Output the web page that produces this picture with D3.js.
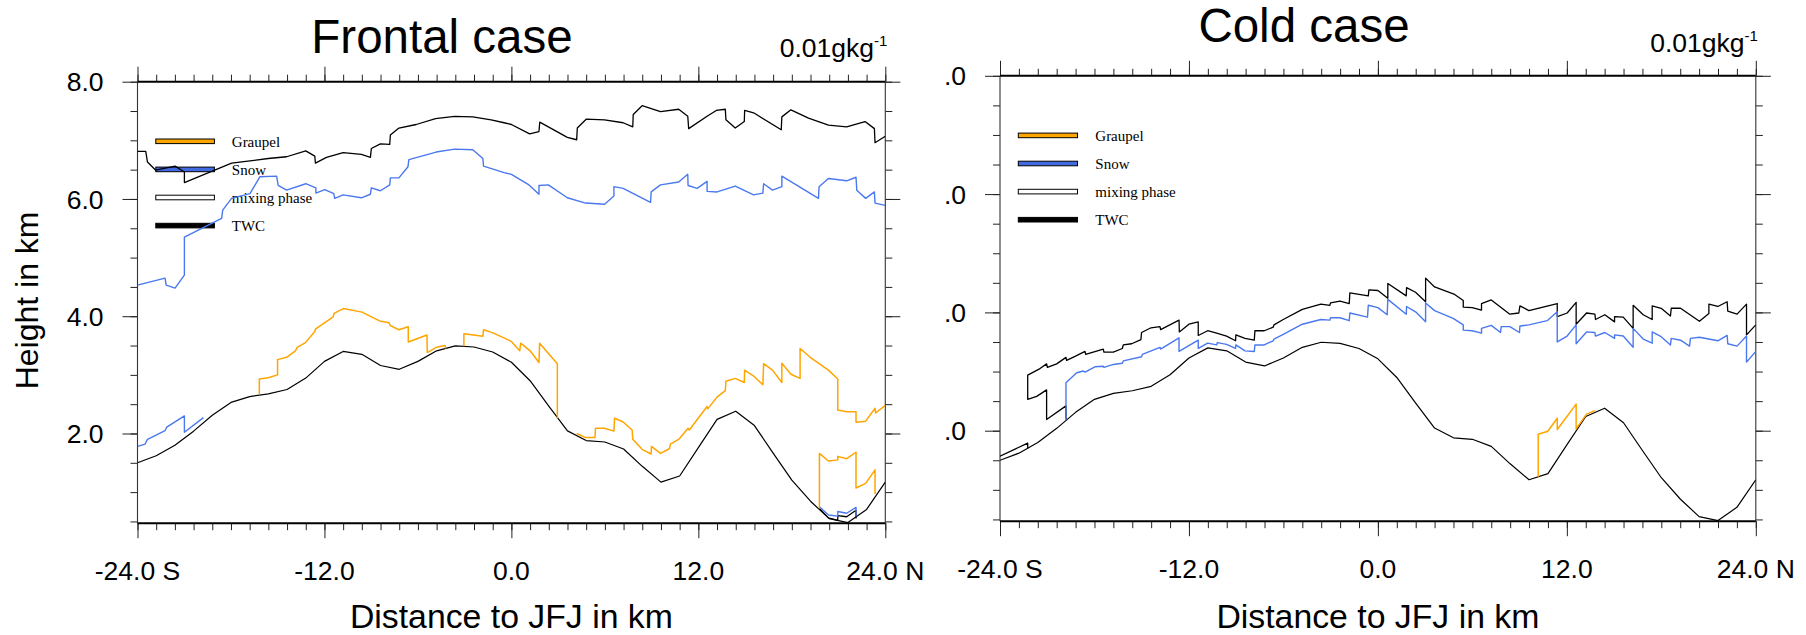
<!DOCTYPE html>
<html><head><meta charset="utf-8">
<script src="https://cdn.jsdelivr.net/npm/d3@7"></script>
<style>body{margin:0;background:#fff}</style>
</head><body>
<svg id="c" width="1806" height="635" xmlns="http://www.w3.org/2000/svg"></svg>
<script>
// ---------------- DATA ----------------
const terrainKm = [-24,-22.8,-21.6,-20.4,-19.2,-18,-16.8,-15.6,-14.4,-13.2,-12,-10.8,-9.6,-8.4,-7.2,-6,-4.8,-3.6,-2.4,-1.2,0,1.2,2.4,3.6,4.8,6,7.2,8.4,9.6,10.8,12,13.2,14.4,15.6,16.8,18,19.2,20.4,21.6,22.8,24];
const terrainH  = [1.50,1.62,1.80,2.04,2.31,2.53,2.63,2.675,2.75,2.945,3.23,3.40,3.35,3.16,3.095,3.23,3.41,3.495,3.475,3.39,3.215,2.90,2.465,2.045,1.88,1.855,1.735,1.44,1.17,1.275,1.76,2.24,2.38,2.135,1.665,1.205,0.845,0.547,0.48,0.705,1.17];

// [distance km, height km]; null = gap
const frontalTWC = [[-24,6.81],[-23.47,6.81],[-23.36,6.63],[-22.83,6.49],[-21.59,6.56],[-20.99,6.46],[-20.99,6.28],[-17.96,6.61],[-16.78,6.65],[-15.61,6.69],[-14.43,6.72],[-13.2,6.82],[-12.62,6.73],[-12.58,6.61],[-11.87,6.71],[-10.8,6.79],[-9.63,6.76],[-9.05,6.71],[-8.99,6.86],[-8.41,6.94],[-7.81,6.93],[-7.77,7.09],[-7.22,7.21],[-6.11,7.27],[-4.87,7.37],[-3.65,7.41],[-2.48,7.40],[-1.3,7.35],[-0.47,7.30],[0,7.27],[1.17,7.11],[1.77,7.15],[1.82,7.31],[3.59,7.05],[4.19,7.01],[4.23,7.21],[4.8,7.36],[5.98,7.35],[7.17,7.30],[7.79,7.23],[7.82,7.44],[8.39,7.59],[9.57,7.49],[10.74,7.53],[11.32,7.41],[11.38,7.20],[12.56,7.41],[13.15,7.51],[13.73,7.53],[13.77,7.35],[14.37,7.21],[14.95,7.32],[14.97,7.51],[15.55,7.47],[17.32,7.18],[17.36,7.40],[17.94,7.52],[19.07,7.38],[20.35,7.26],[21.52,7.23],[22.7,7.32],[23.3,7.20],[23.34,6.96],[24,7.07],
  null,[19.77,0.72],[20.35,0.56],[20.95,0.52],[20.95,0.60],[21.52,0.58],[22.12,0.69],[22.12,0.55]];

const frontalSnow = [[-24,4.53],[-22.23,4.65],[-22.16,4.53],[-21.59,4.48],[-20.99,4.70],[-20.99,5.35],[-18.6,5.67],[-18.53,5.81],[-17.96,6.01],[-16.78,6.09],[-16.14,6.38],[-15.07,6.39],[-14.97,6.23],[-14.43,6.15],[-13.2,6.26],[-12.55,6.19],[-12.55,6.10],[-11.98,6.16],[-11.4,6.09],[-11.34,6.01],[-10.8,6.07],[-9.63,6.02],[-9.05,6.08],[-8.99,6.19],[-8.41,6.14],[-7.81,6.24],[-7.77,6.36],[-7.22,6.36],[-6.64,6.55],[-6.58,6.67],[-4.83,6.80],[-3.65,6.85],[-2.48,6.84],[-1.83,6.69],[-1.79,6.56],[-0.47,6.45],[0,6.42],[1.13,6.24],[1.77,6.08],[1.77,6.23],[2.37,6.24],[3.59,6.02],[4.76,5.93],[5.98,5.91],[6.58,6.05],[6.58,6.21],[7.17,6.18],[8.93,5.94],[8.97,6.12],[9.57,6.24],[10.74,6.29],[11.32,6.42],[11.34,6.23],[11.92,6.18],[12.56,6.30],[12.56,6.13],[13.2,6.12],[14.37,6.22],[15.55,6.07],[16.14,6.10],[16.19,6.26],[16.76,6.15],[17.36,6.21],[17.36,6.39],[19.71,6.01],[19.75,6.21],[20.35,6.35],[21.52,6.31],[22.12,6.37],[22.17,6.15],[22.74,6.01],[23.3,6.12],[23.34,5.93],[24,5.89],
  null,[-24,1.78],[-23.51,1.82],[-23.36,1.90],[-22.23,2.05],[-22.12,2.11],[-20.99,2.30],[-20.99,2.02],[-19.77,2.27],
  null,[19.77,0.75],[20.35,0.61],[20.95,0.59],[20.95,0.67],[21.52,0.64],[22.12,0.74],[22.12,0.59]];

const frontalGraupel = [[-16.18,2.66],[-16.18,2.93],[-15.61,2.95],[-15.01,3.00],[-15.01,3.26],[-14.43,3.30],[-13.86,3.41],[-13.75,3.47],[-13.22,3.55],[-12.62,3.74],[-12.58,3.78],[-11.44,3.99],[-11.38,4.05],[-10.78,4.13],[-9.59,4.07],[-8.46,3.92],[-7.86,3.89],[-7.77,3.84],[-7.22,3.77],[-6.62,3.82],[-6.62,3.56],[-5.42,3.68],[-5.40,3.38],[-4.82,3.47],[-4.25,3.50],[-4.23,3.45],
  null,[-3.05,3.49],[-3.05,3.70],[-1.83,3.66],[-1.79,3.77],[-1.23,3.72],[-0.47,3.63],[0,3.57],[0.53,3.41],[0.6,3.54],[1.2,3.41],[1.77,3.21],[1.81,3.54],[2.95,3.19],[2.95,2.26],
  null,[4.19,2.00],[4.76,1.93],[5.36,1.93],[5.40,2.09],[5.98,2.09],[6.58,2.04],[6.62,2.26],[7.15,2.20],[7.75,2.06],[7.79,1.90],[8.39,1.73],[8.97,1.65],[8.99,1.78],[9.57,1.66],[10.14,1.74],[10.21,1.82],[10.78,1.91],[11.34,2.09],[11.42,2.06],[12.56,2.46],[12.60,2.42],[13.2,2.62],[13.73,2.73],[13.77,2.89],[14.37,2.94],[14.95,2.87],[14.97,3.08],[15.55,2.98],[16.14,2.83],[16.19,3.19],[16.76,3.08],[17.36,2.87],[17.36,3.20],[17.94,3.01],[18.53,2.94],[18.53,3.45],[19.18,3.30],[20.35,3.08],[20.95,2.93],[20.95,2.40],[21.52,2.37],[22.12,2.37],[22.12,2.19],[22.74,2.21],[23.34,2.43],[23.38,2.35],[24,2.48],
  null,[19.77,0.72],[19.77,1.66],[20.35,1.53],[20.95,1.55],[20.95,1.61],[21.52,1.57],[22.12,1.68],[22.12,1.07],[22.74,1.15],[23.34,1.38],[23.34,0.97]];

const coldTWC = [[-24,1.57],[-22.24,1.79],[-22.24,1.70],
  null,[-19.81,2.19],[-19.81,2.42],[-21.04,2.19],[-21.04,2.69],[-21.67,2.58],[-22.24,2.53],[-22.24,2.94],[-21.46,3.05],[-21.04,3.13],[-20.99,3.07],[-20.40,3.13],[-19.81,3.24],[-19.77,3.19],[-19.20,3.26],[-18.60,3.34],[-18.56,3.29],[-17.44,3.38],[-17.40,3.33],[-16.80,3.33],[-16.23,3.39],[-16.17,3.45],[-15.64,3.47],[-15.05,3.54],[-15.01,3.66],[-14.41,3.74],[-13.84,3.76],[-13.80,3.71],[-12.63,3.87],[-12.61,3.67],[-12.00,3.80],[-11.41,3.84],[-11.41,3.61],[-10.81,3.69],[-10.24,3.65],[-9.61,3.60],[-9.04,3.52],[-9.02,3.62],[-8.44,3.56],[-7.85,3.53],[-7.81,3.69],[-7.22,3.69],[-6.65,3.75],[-6.60,3.79],[-6.01,3.88],[-4.80,4.05],[-3.62,4.14],[-3.05,4.12],[-3.01,4.16],[-2.41,4.19],[-1.82,4.15],[-1.78,4.33],[-0.61,4.28],[-0.57,4.38],[0,4.37],[0.63,4.24],[0.63,4.49],[1.80,4.28],[1.82,4.42],[2.39,4.34],[3.03,4.18],[3.03,4.58],[3.60,4.43],[4.83,4.31],[5.42,4.20],[5.42,4.09],[5.99,4.08],[6.58,4.04],[6.58,4.15],[7.20,4.21],[8.38,3.97],[8.95,3.99],[9.02,4.11],[9.59,4.03],[11.39,4.15],[11.39,3.93],[12.02,3.99],[12.59,4.17],[12.59,3.80],[13.25,3.99],[13.78,3.97],[13.82,3.88],[14.41,3.96],[15.03,3.84],[15.03,3.93],[15.58,3.92],[16.21,3.73],[16.21,4.12],[16.85,3.96],[17.42,3.88],[17.42,4.11],[17.99,4.07],[18.58,3.94],[18.63,4.07],[19.22,4.07],[20.42,3.85],[21.02,3.98],[21.02,4.14],[21.59,4.10],[22.18,4.18],[22.22,4.02],[22.81,3.97],[23.41,4.14],[23.41,3.62],[24,3.79]];

const coldSnow = [[-19.81,2.19],[-19.81,2.81],[-19.13,2.98],[-18.71,3.01],[-18.60,2.99],[-17.97,3.08],[-17.44,3.09],[-17.40,3.07],[-16.80,3.12],[-16.23,3.14],[-16.17,3.18],[-15.01,3.25],[-14.96,3.29],[-13.84,3.41],[-13.80,3.38],[-12.63,3.57],[-12.63,3.34],[-11.41,3.53],[-11.41,3.39],[-10.81,3.48],[-10.24,3.45],[-10.20,3.49],[-9.61,3.46],[-9.04,3.39],[-9.02,3.45],[-8.44,3.35],[-7.85,3.34],[-7.81,3.45],[-7.22,3.45],[-6.65,3.52],[-6.60,3.55],[-6.01,3.63],[-4.80,3.80],[-3.62,3.88],[-3.05,3.87],[-3.01,3.91],[-2.41,3.91],[-1.82,3.86],[-1.78,3.99],[-0.66,3.92],[-0.61,4.12],[0,4.08],[0.59,3.96],[0.63,4.22],[1.80,3.97],[1.82,4.10],[2.39,4.01],[3.03,3.84],[3.03,4.16],[3.60,4.03],[4.78,3.90],[5.42,3.79],[5.42,3.70],[5.99,3.69],[6.58,3.65],[6.58,3.73],[7.20,3.78],[7.79,3.66],[7.83,3.76],[8.38,3.76],[8.99,3.66],[9.02,3.77],[9.59,3.79],[10.75,3.86],[11.39,4.01],[11.39,3.50],[12.02,3.60],[12.59,3.79],[12.59,3.47],[13.25,3.67],[13.78,3.66],[13.82,3.60],[14.41,3.66],[15.03,3.56],[15.03,3.62],[15.58,3.60],[16.21,3.41],[16.21,3.73],[16.85,3.55],[17.42,3.48],[17.42,3.67],[17.99,3.59],[18.58,3.45],[18.63,3.56],[19.22,3.53],[19.79,3.43],[19.85,3.56],[20.42,3.58],[21.59,3.52],[22.18,3.61],[22.22,3.47],[22.81,3.43],[23.41,3.60],[23.41,3.16],[24,3.34]];

const coldGraupel = [[10.18,1.22],[10.18,1.94],[10.79,1.99],[11.39,2.21],[11.39,2.02],[12.59,2.45],[12.59,2.03],[13.25,2.28],[13.78,2.34]];

const panelTitles = ["Frontal case", "Cold case"];
const unitsText = "0.01gkg";
const unitsSup = "-1";
const xAxisTitle = "Distance to JFJ in km";
const yAxisTitle = "Height in km";
const xMajorTicks = [-24, -12, 0, 12, 24];
const xMajorLabels = ["-24.0 S", "-12.0", "0.0", "12.0", "24.0 N"];
const xMinorTicks = [-24,-22.8,-21.6,-20.4,-19.2,-18,-16.8,-15.6,-14.4,-13.2,-12,-10.8,-9.6,-8.4,-7.2,-6,-4.8,-3.6,-2.4,-1.2,0,1.2,2.4,3.6,4.8,6,7.2,8.4,9.6,10.8,12,13.2,14.4,15.6,16.8,18,19.2,20.4,21.6,22.8,24];
const yMajorTicks = [2, 4, 6, 8];
const yMajorLabels = ["2.0", "4.0", "6.0", "8.0"];
const yMinorTicks = [0.5,1,1.5,2,2.5,3,3.5,4,4.5,5,5.5,6,6.5,7,7.5,8];
const legendLabels = ["Graupel", "Snow", "mixing phase", "TWC"];
const legendColors = ["#FFA500", "#4169E1", "#FFFFFF", "#000000"];
const xDomain = [-24, 24];
const yDomain = [0.47, 8];

// ---------------- LAYOUT ----------------
const panels = [
  {left:137.5, right:885.3, top:81.7, bottom:523.2, titleX:442, titleY:53.3, unitsY:57, supY:45.5,
   twc:frontalTWC, snow:frontalSnow, graupel:frontalGraupel, yTitle:true, clipX:0},
  {left:1000, right:1755.8, top:75.8, bottom:521.2, titleX:1304, titleY:41.7, unitsY:52, supY:40.5,
   twc:coldTWC, snow:coldSnow, graupel:coldGraupel, yTitle:false, clipX:945}
];

const svg = d3.select("#c");
svg.append("rect").attr("width",1806).attr("height",635).attr("fill","#fff");
const defs = svg.append("defs");
const FONT = "'Liberation Sans', Arial, Helvetica, sans-serif";
const SERIF = "'Liberation Serif', 'Times New Roman', serif";

panels.forEach((p, i) => {
  defs.append("clipPath").attr("id","panelclip"+i).append("rect")
    .attr("x", p.clipX).attr("y",0).attr("width",1806-p.clipX).attr("height",635);
  defs.append("clipPath").attr("id","plotclip"+i).append("rect")
    .attr("x", p.left).attr("y", p.top-1).attr("width", p.right-p.left).attr("height", p.bottom-p.top+2);

  const g = svg.append("g").attr("clip-path", `url(#panelclip${i})`);
  const x = d3.scaleLinear().domain(xDomain).range([p.left, p.right]);
  const y = d3.scaleLinear().domain(yDomain).range([p.bottom, p.top]);

  const tickStyle = sel => {
    sel.select(".domain").remove();
    sel.selectAll(".tick line").attr("stroke","#222").attr("stroke-width",1);
    sel.selectAll(".tick text").remove();
  };
  // minor + major ticks, outward on all four sides
  g.append("g").attr("transform",`translate(0,${p.bottom})`).call(d3.axisBottom(x).tickValues(xMinorTicks).tickSize(7)).call(tickStyle);
  g.append("g").attr("transform",`translate(0,${p.bottom})`).call(d3.axisBottom(x).tickValues(xMajorTicks).tickSize(15)).call(tickStyle);
  g.append("g").attr("transform",`translate(0,${p.top})`).call(d3.axisTop(x).tickValues(xMinorTicks).tickSize(7)).call(tickStyle);
  g.append("g").attr("transform",`translate(0,${p.top})`).call(d3.axisTop(x).tickValues(xMajorTicks).tickSize(15)).call(tickStyle);
  g.append("g").attr("transform",`translate(${p.left},0)`).call(d3.axisLeft(y).tickValues(yMinorTicks).tickSize(7)).call(tickStyle);
  g.append("g").attr("transform",`translate(${p.left},0)`).call(d3.axisLeft(y).tickValues(yMajorTicks).tickSize(15)).call(tickStyle);
  g.append("g").attr("transform",`translate(${p.right},0)`).call(d3.axisRight(y).tickValues(yMinorTicks).tickSize(7)).call(tickStyle);
  g.append("g").attr("transform",`translate(${p.right},0)`).call(d3.axisRight(y).tickValues(yMajorTicks).tickSize(15)).call(tickStyle);

  // frame
  g.append("line").attr("x1",p.left).attr("x2",p.left).attr("y1",p.top).attr("y2",p.bottom).attr("stroke","#333").attr("stroke-width",1.1);
  g.append("line").attr("x1",p.right).attr("x2",p.right).attr("y1",p.top).attr("y2",p.bottom).attr("stroke","#333").attr("stroke-width",1.1);
  g.append("line").attr("x1",p.left).attr("x2",p.right).attr("y1",p.top).attr("y2",p.top).attr("stroke","#000").attr("stroke-width",2);
  g.append("line").attr("x1",p.left).attr("x2",p.right).attr("y1",p.bottom).attr("y2",p.bottom).attr("stroke","#000").attr("stroke-width",2);

  // tick labels
  g.selectAll(null).data(xMajorTicks).enter().append("text")
    .attr("x", d => x(d)).attr("y", p.bottom + 56.5)
    .attr("text-anchor","middle").attr("font-family",FONT).attr("font-size",26.5).attr("fill","#000")
    .text((d,k) => xMajorLabels[k]);
  g.selectAll(null).data(yMajorTicks).enter().append("text")
    .attr("x", p.left - 34).attr("y", d => y(d)).attr("dy","0.36em")
    .attr("text-anchor","end").attr("font-family",FONT).attr("font-size",26.5).attr("fill","#000")
    .text((d,k) => yMajorLabels[k]);

  // titles
  g.append("text").attr("x",p.titleX).attr("y",p.titleY).attr("text-anchor","middle")
    .attr("font-family",FONT).attr("font-size",47.5).text(panelTitles[i]);
  const u = g.append("text").attr("x",p.right+2).attr("y",p.unitsY).attr("text-anchor","end")
    .attr("font-family",FONT).attr("font-size",26.5);
  u.append("tspan").text(unitsText);
  u.append("tspan").attr("font-size",15).attr("dy", p.supY - p.unitsY).text(unitsSup);

  g.append("text").attr("x",(p.left+p.right)/2).attr("y",628)
    .attr("text-anchor","middle").attr("font-family",FONT).attr("font-size",33.8).text(xAxisTitle);
  if (p.yTitle) {
    g.append("text").attr("transform",`translate(38,${(p.top+p.bottom)/2 - 2}) rotate(-90)`)
      .attr("text-anchor","middle").attr("font-family",FONT).attr("font-size",32).text(yAxisTitle);
  }

  // legend
  const sc = (p.right - p.left) / 747.8;
  const lg = g.append("g");
  legendLabels.forEach((lab, k) => {
    const cy = p.top + 59.6 + k * 28.1;
    lg.append("rect").attr("x", p.left + 18.3).attr("y", cy - 2.3).attr("width", 58.6*sc).attr("height", 4.6)
      .attr("fill", legendColors[k]).attr("stroke","#000").attr("stroke-width",1);
    lg.append("text").attr("x", p.left + 94.3*sc).attr("y", cy).attr("dy","0.35em")
      .attr("font-family",SERIF).attr("font-size",15).text(lab);
  });

  // lines
  const line = d3.line().defined(d => d !== null).x(d => x(d[0])).y(d => y(d[1]));
  const pl = g.append("g").attr("clip-path",`url(#plotclip${i})`).attr("fill","none");
  pl.append("path").datum(terrainKm.map((k,j)=>[k, terrainH[j]])).attr("d", line)
    .attr("stroke","#000").attr("stroke-width",1.2).attr("stroke-linejoin","round");
  pl.append("path").datum(p.twc).attr("d", line).attr("stroke","#000").attr("stroke-width",1.3).attr("stroke-linejoin","round");
  pl.append("path").datum(p.snow).attr("d", line).attr("stroke","#4A78EE").attr("stroke-width",1.4).attr("stroke-linejoin","round");
  pl.append("path").datum(p.graupel).attr("d", line).attr("stroke","#FFA500").attr("stroke-width",1.5).attr("stroke-linejoin","round");
});
</script>
</body></html>
